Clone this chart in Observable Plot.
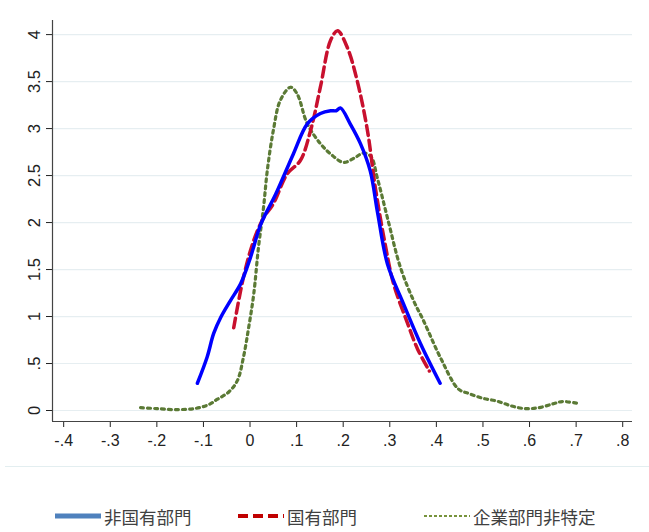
<!DOCTYPE html>
<html>
<head>
<meta charset="utf-8">
<script src="https://cdn.jsdelivr.net/npm/d3@7"></script>
<script src="https://cdn.jsdelivr.net/npm/@observablehq/plot@0.6"></script>
<style>
  body { margin: 0; background: #fff; }
  #wrap { position: relative; width: 649px; height: 532px; overflow: hidden; font-family: "Liberation Sans", Arial, sans-serif; }
  #sep { position: absolute; left: 5px; right: 0; top: 466px; height: 1px; background: #e3eef0; }
  #legend { position: absolute; top: 503px; left: 0; width: 649px; height: 26px; font-family: "Noto Sans CJK JP", sans-serif; font-size: 17.5px; color: #404040; }
  .item { position: absolute; display: flex; align-items: center; height: 26px; white-space: nowrap; }
  .item svg { margin-right: 3px; }
</style>
</head>
<body>
<div id="wrap">
  <div id="chart"></div>
  <div id="sep"></div>
  <div id="legend"></div>
</div>
<script>
// ---- data ----
const seriesNames = ["非国有部門", "国有部門", "企業部門非特定"];
const blueX = [-0.113,-0.092,-0.078,-0.063,-0.042,-0.020,0.001,0.023,0.055,0.093,0.123,0.151,0.173,0.185,0.194,0.215,0.237,0.258,0.274,0.295,0.329,0.366,0.408];
const blueY = [0.29,0.57,0.82,0.99,1.17,1.35,1.63,1.98,2.30,2.73,3.05,3.16,3.19,3.19,3.22,3.05,2.84,2.55,2.10,1.56,1.14,0.71,0.29];
const redX = [-0.035,-0.014,0.008,0.029,0.050,0.080,0.108,0.130,0.151,0.173,0.188,0.209,0.230,0.252,0.269,0.290,0.308,0.338,0.360,0.385];
const redY = [0.88,1.42,1.81,2.05,2.20,2.52,2.66,2.98,3.44,3.94,4.04,3.86,3.51,2.98,2.37,1.77,1.35,0.93,0.65,0.42];
const greenX = [-0.235,-0.200,-0.164,-0.120,-0.090,-0.070,-0.045,-0.027,-0.014,-0.003,0.008,0.018,0.029,0.037,0.050,0.065,0.087,0.101,0.123,0.151,0.173,0.201,0.225,0.244,0.260,0.273,0.295,0.323,0.351,0.372,0.409,0.447,0.470,0.500,0.530,0.560,0.590,0.620,0.650,0.670,0.705];
const greenY = [0.03,0.02,0.01,0.02,0.06,0.12,0.20,0.32,0.57,0.88,1.24,1.73,2.16,2.55,2.98,3.30,3.44,3.37,3.05,2.84,2.73,2.64,2.69,2.74,2.70,2.48,2.05,1.52,1.17,0.96,0.56,0.23,0.18,0.13,0.10,0.05,0.02,0.03,0.07,0.095,0.075];
const xTicks = [-0.4,-0.3,-0.2,-0.1,0,0.1,0.2,0.3,0.4,0.5,0.6,0.7,0.8];
const yTicks = [0,0.5,1,1.5,2,2.5,3,3.5,4];

const toRows = (xs, ys) => xs.map((x, i) => ({x, y: ys[i]}));
const blue = toRows(blueX, blueY);
const red = toRows(redX, redY);
const green = toRows(greenX, greenY);

const fmt = d => d === 0 ? "0" : String(+d.toFixed(2)).replace(/^(-?)0\./, "$1.");
const xMin = -0.424, xMax = 0.821, yMin = -0.117, yMax = 4.15;
const font = "'Liberation Sans', Arial, sans-serif";

const chart = Plot.plot({
  width: 649,
  height: 470,
  marginLeft: 52,
  marginRight: 17,
  marginTop: 20,
  marginBottom: 49,
  style: { background: "#fff", color: "#222", fontFamily: font },
  x: { domain: [xMin, xMax], ticks: xTicks, tickFormat: () => "", tickSize: 6, label: null },
  y: { domain: [yMin, yMax], ticks: yTicks, tickFormat: () => "", tickSize: 6, label: null },
  marks: [
    Plot.ruleY(yTicks, { x1: xMin, x2: xMax, stroke: "#e6eef1", strokeWidth: 1.2 }),
    Plot.ruleX([xMin], { y1: yMin, y2: yMax, stroke: "#444", strokeWidth: 1.2 }),
    Plot.ruleY([yMin], { x1: xMin, x2: xMax, stroke: "#444", strokeWidth: 1.2 }),
    Plot.text(yTicks, { x: xMin, y: d => d, text: fmt, rotate: -90, dx: -18, fontSize: 16.5, fill: "#222", fontFamily: font }),
    Plot.text(xTicks, { x: d => d, y: yMin, text: fmt, dy: 19, fontSize: 16, fill: "#222", fontFamily: font }),
    Plot.line(green, { x: "x", y: "y", stroke: "#5b7a35", strokeWidth: 3.2, strokeDasharray: "3,4", curve: "catmull-rom" }),
    Plot.line(red, { x: "x", y: "y", stroke: "#c8102e", strokeWidth: 3.5, strokeDasharray: "10,5", curve: "catmull-rom" }),
    Plot.line(blue, { x: "x", y: "y", stroke: "#0000ff", strokeWidth: 3.5, curve: "catmull-rom" })
  ]
});
document.getElementById("chart").appendChild(chart);

// legend
const legendItems = [
  { name: seriesNames[0], left: 55, color: "#4f81bd", width: 5, dash: null },
  { name: seriesNames[1], left: 238, color: "#c00000", width: 4, dash: "10,5" },
  { name: seriesNames[2], left: 424, color: "#77933c", width: 2, dash: "3,2" }
];
const leg = document.getElementById("legend");
for (const it of legendItems) {
  const div = document.createElement("div");
  div.className = "item";
  div.style.left = it.left + "px";
  div.innerHTML = `<svg width="46" height="10"><line x1="0" x2="46" y1="5" y2="5" stroke="${it.color}" stroke-width="${it.width}" ${it.dash ? `stroke-dasharray="${it.dash}"` : ""}/></svg><span>${it.name}</span>`;
  leg.appendChild(div);
}
</script>
</body>
</html>
